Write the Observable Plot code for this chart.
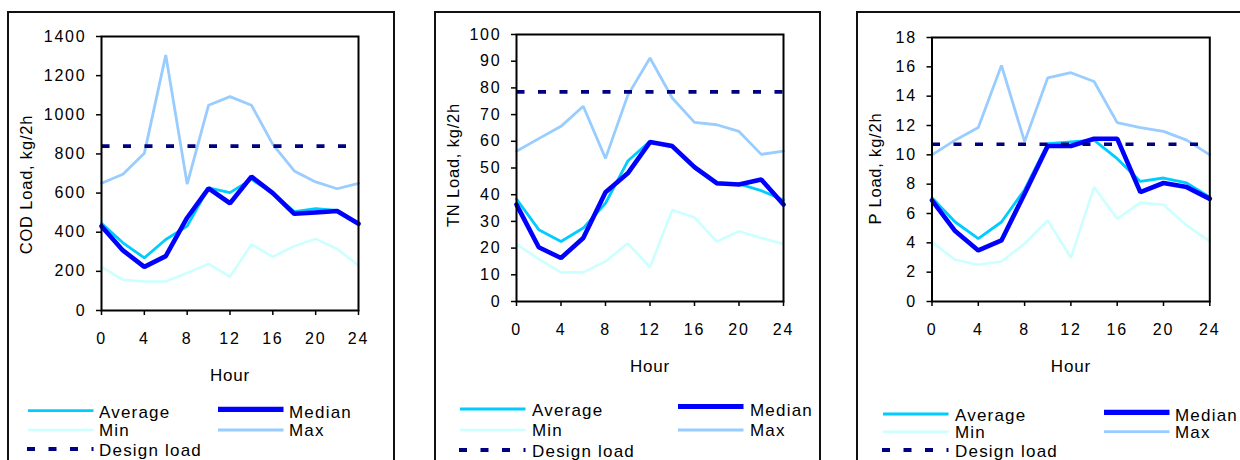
<!DOCTYPE html>
<html>
<head>
<meta charset="utf-8">
<script src="https://cdn.jsdelivr.net/npm/d3@7"></script>
<script src="https://cdn.jsdelivr.net/npm/@observablehq/plot@0.6"></script>
<style>
  html, body { margin: 0; padding: 0; background: #fff; }
  #page { position: relative; width: 1240px; height: 460px; overflow: hidden; background: #fff;
          font-family: "Liberation Sans", Arial, sans-serif; }
  .box { position: absolute; border: 2px solid #111; box-sizing: border-box; }
  .chart { position: absolute; top: 0; }
  .chart svg { display: block; max-width: none; }
  .chart g[aria-label$="tick label"] text { letter-spacing: 1.8px; }
  .chart g[aria-label="text"] text { letter-spacing: 0.8px; }
  #legend { position: absolute; left: 0; top: 0; pointer-events: none; }
  #legend text { letter-spacing: 1.2px; }
</style>
</head>
<body>
<div id="page"></div>
<script>
// Two-hourly sampling points across the day
const hours = [0, 2, 4, 6, 8, 10, 12, 14, 16, 18, 20, 22, 24];
const hourTicks = [0, 4, 8, 12, 16, 20, 24];

// COD load, kg/2h
const codAverage = [445, 346, 269, 363, 431, 627, 602, 670, 600, 505, 520, 512, 445];
const codMedian  = [431, 307, 223, 278, 474, 624, 548, 684, 600, 494, 501, 508, 443];
const codMin     = [223, 157, 148, 148, 192, 238, 172, 338, 274, 329, 366, 315, 230];
const codMax     = [650, 696, 803, 1305, 646, 1049, 1093, 1049, 849, 713, 657, 622, 650];
const codDesign  = 840;
const codTicks   = [0, 200, 400, 600, 800, 1000, 1200, 1400];

// TN load, kg/2h
const tnAverage = [38.4, 26.9, 22.5, 27.5, 36.8, 52.6, 60.0, 57.8, 50.0, 44.0, 44.0, 41.5, 38.0];
const tnMedian  = [36.3, 20.3, 16.3, 23.8, 40.9, 48.0, 59.7, 58.2, 50.3, 44.3, 43.8, 45.7, 36.3];
const tnMin     = [21.5, 15.9, 10.9, 10.9, 15.0, 21.8, 12.8, 34.3, 31.5, 22.4, 26.3, 23.8, 21.5];
const tnMax     = [56.3, 61.0, 65.6, 73.1, 53.6, 77.2, 91.2, 76.2, 67.1, 66.2, 63.7, 55.1, 56.3];
const tnDesign  = 78.5;
const tnTicks   = [0, 10, 20, 30, 40, 50, 60, 70, 80, 90, 100];

// P load, kg/2h
const pAverage = [7.08, 5.42, 4.28, 5.42, 7.62, 10.76, 10.88, 11.0, 9.74, 8.19, 8.42, 8.08, 7.12];
const pMedian  = [6.9, 4.8, 3.48, 4.16, 7.35, 10.6, 10.6, 11.1, 11.1, 7.46, 8.08, 7.8, 7.0];
const pMin     = [4.05, 2.84, 2.5, 2.73, 3.94, 5.53, 2.98, 7.8, 5.64, 6.74, 6.6, 5.19, 4.1];
const pMax     = [10.0, 11.0, 11.86, 16.1, 10.9, 15.25, 15.6, 15.0, 12.2, 11.86, 11.6, 11.0, 10.0];
const pDesign  = 10.72;
const pTicks   = [0, 2, 4, 6, 8, 10, 12, 14, 16, 18];

const seriesNames = ["Average", "Median", "Min", "Max", "Design load"];

const COLORS = {
  Average: "#00ccff",
  Median: "#0000ff",
  Min: "#ccffff",
  Max: "#99ccff",
  Design: "#000080"
};
const WIDTHS = { Average: 2.8, Median: 4.6, Min: 2.6, Max: 2.8, Design: 3.6 };
const DASH = "8,13.5";
const FONT = "'Liberation Sans', Arial, sans-serif";

const panels = [
  {
    ylabel: "COD Load, kg/2h", ticks: codTicks, yMax: 1400,
    avg: codAverage, med: codMedian, min: codMin, max: codMax, design: codDesign,
    layout: { left: 0, width: 400, height: 390, mt: 36, mb: 80, ml: 101, mr: 42,
              labelDx: -75, labelDy: 11, hourDy: 65,
              box: { left: 7, width: 388 },
              legend: { a: 28, aText: 99, b: 218, bText: 289, rows: [410.7, 430, 449], medY: 409.3 } }
  },
  {
    ylabel: "TN Load, kg/2h", ticks: tnTicks, yMax: 100,
    avg: tnAverage, med: tnMedian, min: tnMin, max: tnMax, design: tnDesign,
    layout: { left: 415, width: 410, height: 390, mt: 34, mb: 89, ml: 101, mr: 42,
              labelDx: -63, labelDy: -3, hourDy: 65,
              box: { left: 434, width: 387 },
              legend: { a: 460, aText: 532, b: 678, bText: 750, rows: [409, 430, 450], medY: 406.5 } }
  },
  {
    ylabel: "P Load, kg/2h", ticks: pTicks, yMax: 18,
    avg: pAverage, med: pMedian, min: pMin, max: pMax, design: pDesign,
    layout: { left: 825, width: 415, height: 390, mt: 37, mb: 89, ml: 106.5, mr: 30.7,
              labelDx: -56.5, labelDy: -1, hourDy: 65,
              box: { left: 856, width: 420 },
              legend: { a: 883, aText: 955, b: 1104, bText: 1175, rows: [414, 431.7, 450], medY: 412.3 } }
  }
];

const page = document.getElementById("page");

function toRows(values) {
  return hours.map((h, i) => ({ hour: h, value: values[i] }));
}

for (const p of panels) {
  const L = p.layout;

  // outer chart border
  const box = document.createElement("div");
  box.className = "box";
  Object.assign(box.style, { left: L.box.left + "px", top: "11px", width: L.box.width + "px", height: "480px" });
  page.appendChild(box);

  const designRows = [{ hour: 0, value: p.design }, { hour: 24, value: p.design }];

  const chart = Plot.plot({
    width: L.width,
    height: L.height,
    marginTop: L.mt,
    marginBottom: L.mb,
    marginLeft: L.ml,
    marginRight: L.mr,
    x: { domain: [0, 24] },
    y: { domain: [0, p.yMax] },
    style: {
      fontFamily: FONT,
      fontSize: "16px",
      color: "#000",
      background: "transparent",
      overflow: "visible"
    },
    marks: [
      Plot.line(toRows(p.min), { x: "hour", y: "value", stroke: COLORS.Min, strokeWidth: WIDTHS.Min, strokeLinejoin: "miter" }),
      Plot.line(toRows(p.max), { x: "hour", y: "value", stroke: COLORS.Max, strokeWidth: WIDTHS.Max, strokeLinejoin: "miter" }),
      Plot.line(toRows(p.avg), { x: "hour", y: "value", stroke: COLORS.Average, strokeWidth: WIDTHS.Average, strokeLinejoin: "miter" }),
      Plot.line(toRows(p.med), { x: "hour", y: "value", stroke: COLORS.Median, strokeWidth: WIDTHS.Median, strokeLinejoin: "miter" }),
      Plot.line(designRows, { x: "hour", y: "value", stroke: COLORS.Design, strokeWidth: WIDTHS.Design,
                              strokeDasharray: DASH, strokeLinecap: "butt" }),
      Plot.frame({ stroke: "#000", strokeWidth: 2 }),
      Plot.axisY({ ticks: p.ticks, tickSize: 5, tickPadding: 10, label: null, strokeWidth: 1.5,
                   fontSize: 16, tickFormat: d => String(d) }),
      Plot.axisX({ ticks: hourTicks, tickSize: 5, tickPadding: 17, label: null, strokeWidth: 1.5,
                   fontSize: 16, tickFormat: d => String(d) }),
      Plot.text([p.ylabel], { text: d => d, frameAnchor: "left", rotate: -90, dx: L.labelDx, dy: L.labelDy,
                              textAnchor: "middle", lineAnchor: "middle", fontSize: 16.5 }),
      Plot.text(["Hour"], { text: d => d, frameAnchor: "bottom", dy: L.hourDy,
                            textAnchor: "middle", lineAnchor: "middle", fontSize: 17 })
    ]
  });

  const holder = document.createElement("div");
  holder.className = "chart";
  holder.style.left = L.left + "px";
  holder.style.width = L.width + "px";
  holder.appendChild(chart);
  page.appendChild(holder);
}

// Legends below each panel
const legend = d3.select(page).append("svg")
  .attr("id", "legend")
  .attr("width", 1240)
  .attr("height", 460)
  .style("font-family", FONT)
  .style("font-size", "17px");

const LEN = 65.5;
for (const p of panels) {
  const g = p.layout.legend;
  const [r1, r2, r3] = g.rows;
  const entries = [
    { name: seriesNames[0], x: g.a, tx: g.aText, y: r1, ty: r1 + 7, color: COLORS.Average, w: WIDTHS.Average },
    { name: seriesNames[1], x: g.b, tx: g.bText, y: g.medY, ty: r1 + 7, color: COLORS.Median, w: 5.2 },
    { name: seriesNames[2], x: g.a, tx: g.aText, y: r2, ty: r2 + 6, color: COLORS.Min, w: WIDTHS.Min },
    { name: seriesNames[3], x: g.b, tx: g.bText, y: r2, ty: r2 + 6, color: COLORS.Max, w: WIDTHS.Max },
    { name: seriesNames[4], x: g.a - 1, tx: g.aText, y: r3, ty: r3 + 6.5, color: COLORS.Design, w: 3.8, dash: DASH }
  ];
  for (const e of entries) {
    legend.append("line")
      .attr("x1", e.x).attr("x2", e.x + LEN + (e.dash ? 1 : 0))
      .attr("y1", e.y).attr("y2", e.y)
      .attr("stroke", e.color)
      .attr("stroke-width", e.w)
      .attr("stroke-dasharray", e.dash || null);
    legend.append("text")
      .attr("x", e.tx).attr("y", e.ty)
      .attr("fill", "#000")
      .text(e.name);
  }
}
</script>
</body>
</html>
